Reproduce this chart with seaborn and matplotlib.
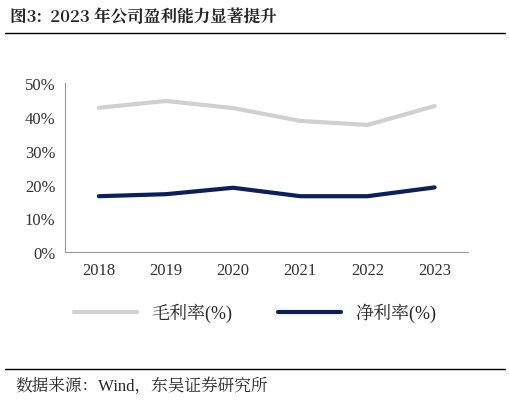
import matplotlib
matplotlib.use("Agg")
import matplotlib.pyplot as plt
import seaborn as sns
import pandas as pd
from matplotlib.lines import Line2D

years = ["2018", "2019", "2020", "2021", "2022", "2023"]
gross = [42.8, 44.8, 42.7, 38.9, 37.7, 43.3]
net = [16.6, 17.2, 19.1, 16.6, 16.6, 19.2]

sns.set_style("white")
plt.rcParams['font.family'] = ['Noto Sans CJK SC', 'DejaVu Sans']
serif = ['Liberation Serif', 'Noto Serif CJK SC', 'Noto Sans CJK SC']

fig = plt.figure(figsize=(5.10, 4.02), dpi=100)
ax = fig.add_axes([0.128, 0.37, 0.79, 0.42])
df = pd.DataFrame({"year": years * 2, "v": gross + net,
                   "s": ["毛利率(%)"] * 6 + ["净利率(%)"] * 6})
sns.lineplot(data=df, x="year", y="v", hue="s", palette=["#D0D0D0", "#0A1F5C"],
             linewidth=3, ax=ax, legend=False, sort=False)
ax.set_ylim(0, 50)
ax.set_yticks(range(0, 51, 10))
ax.set_yticklabels([f"{t}%" for t in range(0, 51, 10)], fontsize=12, family=serif)
for lab in ax.get_xticklabels():
    lab.set_family(serif)
ax.tick_params(axis='x', labelsize=12, colors="#333333")
ax.tick_params(axis='y', colors="#333333")
ax.set_xlabel(""); ax.set_ylabel("")
ax.set_xlim(-0.5, 5.5)
for s in ["top", "right"]:
    ax.spines[s].set_visible(False)
for s in ["left", "bottom"]:
    ax.spines[s].set_color("#999999")

handles = [Line2D([], [], color="#D0D0D0", lw=3), Line2D([], [], color="#0A1F5C", lw=3)]
fig.legend(handles, ["毛利率(%)", "净利率(%)"], loc="center", bbox_to_anchor=(0.5, 0.22),
           ncol=2, frameon=False, handlelength=3.5, columnspacing=2.5,
           prop={'family': serif, 'size': 13})

fig.text(0.02, 0.955, "图3:  2023 年公司盈利能力显著提升", fontsize=12, fontweight="bold", va="center",
         family=['Noto Serif CJK SC', 'Noto Sans CJK SC', 'DejaVu Sans'])
fig.add_artist(Line2D([0.01, 0.99], [0.915, 0.915], color="black", lw=1))
fig.add_artist(Line2D([0.01, 0.99], [0.08, 0.08], color="black", lw=1))
fig.text(0.03, 0.04, "数据来源：Wind，东吴证券研究所", fontsize=12, va="center", family=serif)
fig.savefig("out.png", dpi=100)
